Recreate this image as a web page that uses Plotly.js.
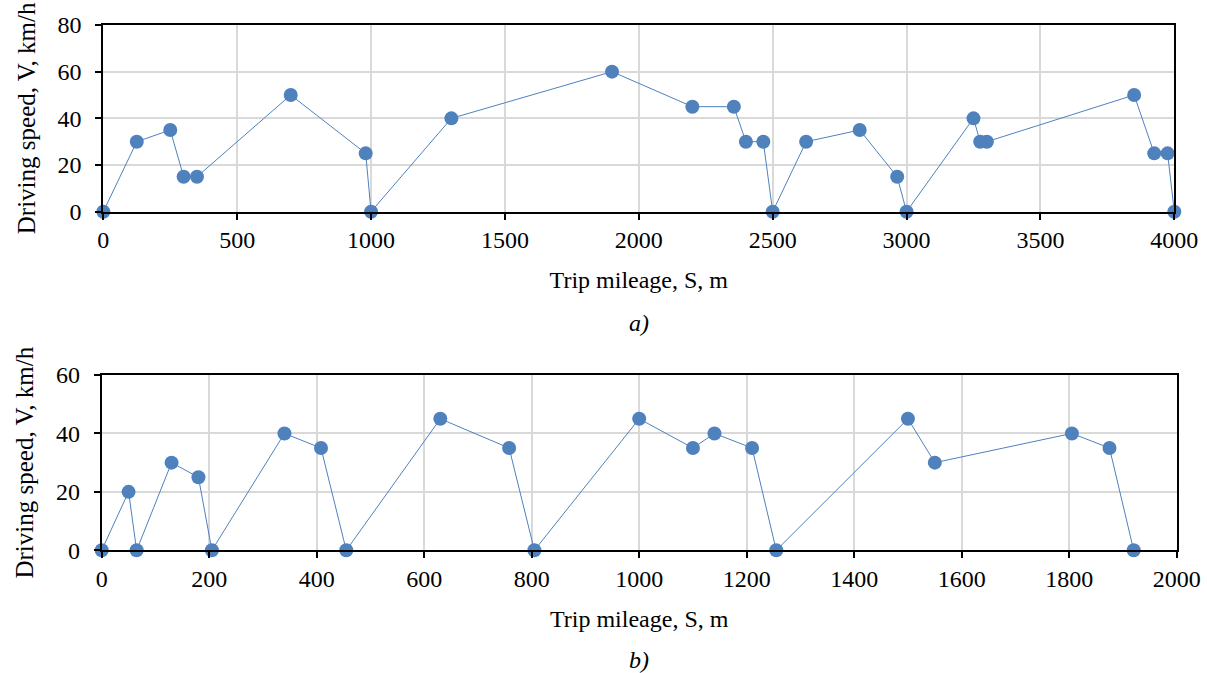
<!DOCTYPE html>
<html>
<head>
<meta charset="utf-8">
<script src="https://cdn.plot.ly/plotly-3.0.1.min.js"></script>
<style>html,body{margin:0;padding:0;background:#fff;}#chart{width:1207px;height:673px;}</style>
</head>
<body>
<div id="chart"></div>
<script>
// Trip a)
const distA = [0, 125, 250, 300, 350, 700, 980, 1000, 1300, 1900, 2200, 2355, 2400, 2465, 2500, 2625, 2825, 2965, 3000, 3250, 3275, 3300, 3850, 3925, 3975, 4000];
const speedA = [0, 30, 35, 15, 15, 50, 25, 0, 40, 60, 45, 45, 30, 30, 0, 30, 35, 15, 0, 40, 30, 30, 50, 25, 25, 0];
// Trip b)
const distB = [0, 50, 65, 130, 180, 205, 340, 408, 455, 630, 758, 805, 1000, 1100, 1140, 1210, 1255, 1500, 1550, 1805, 1875, 1920];
const speedB = [0, 20, 0, 30, 25, 0, 40, 35, 0, 45, 35, 0, 45, 35, 40, 35, 0, 45, 30, 40, 35, 0];

const xTitle = "Trip mileage, S, m";
const yTitle = "Driving speed, V, km/h";
const panelLabels = ["a)", "b)"];

const blue = "#4f81bd";
const fontFam = "Liberation Serif, Times New Roman, serif";
const FS = 24;
const FSY = 25;

const traceStyle = {
  mode: "lines+markers",
  line: {color: blue, width: 1},
  marker: {color: blue, size: 14},
  showlegend: false,
  cliponaxis: false,
  hoverinfo: "x+y"
};

const data = [
  Object.assign({x: distA, y: speedA, xaxis: "x", yaxis: "y"}, traceStyle),
  Object.assign({x: distB, y: speedB, xaxis: "x2", yaxis: "y2"}, traceStyle)
];

function xax(domain, range, dtick) {
  return {
    domain: domain, range: range, dtick: dtick, tick0: 0,
    showline: true, linecolor: "#000", linewidth: 2, mirror: true,
    ticks: "outside", ticklen: 6, tickwidth: 2, tickcolor: "#000",
    showgrid: true, gridcolor: "#d9d9d9", gridwidth: 2,
    zeroline: false,
    tickfont: {family: fontFam, size: FS, color: "#000"},
    title: {text: xTitle, font: {family: fontFam, size: FS, color: "#000"}, standoff: 19},
    automargin: false, fixedrange: true
  };
}
function yax(domain, range, dtick, anchor) {
  return {
    domain: domain, range: range, dtick: dtick, tick0: 0, anchor: anchor,
    showline: true, linecolor: "#000", linewidth: 2, mirror: true,
    ticks: "outside", ticklen: 6, tickwidth: 2, tickcolor: "#000",
    showgrid: true, gridcolor: "#d9d9d9", gridwidth: 2,
    zeroline: false, ticklabelstandoff: 9,
    tickfont: {family: fontFam, size: FS, color: "#000"},
    title: {text: yTitle, font: {family: fontFam, size: FSY, color: "#000"}, standoff: 15},
    automargin: false, fixedrange: true
  };
}

const layout = {
  width: 1207, height: 673,
  margin: {l: 0, r: 0, t: 0, b: 0},
  paper_bgcolor: "#fff", plot_bgcolor: "#fff",
  font: {family: fontFam, color: "#000"},
  xaxis: Object.assign(xax([0.08559, 0.97291], [0, 4000], 500), {anchor: "y"}),
  yaxis: yax([0.68544, 0.96285], [0, 80], 20, "x"),
  xaxis2: Object.assign(xax([0.08426, 0.97490], [0, 2000], 200), {anchor: "y2"}),
  yaxis2: yax([0.18232, 0.44279], [0, 60], 20, "x2"),
  annotations: [
    {text: panelLabels[0], xref: "paper", yref: "paper", x: 0.5293, y: 1 - 323/673, showarrow: false,
     font: {family: fontFam, size: FS, color: "#000", style: "italic"}, xanchor: "center", yanchor: "middle"},
    {text: panelLabels[1], xref: "paper", yref: "paper", x: 0.5293, y: 1 - 660/673, showarrow: false,
     font: {family: fontFam, size: FS, color: "#000", style: "italic"}, xanchor: "center", yanchor: "middle"}
  ]
};

Plotly.newPlot("chart", data, layout, {displayModeBar: false, staticPlot: true});
</script>
</body>
</html>
